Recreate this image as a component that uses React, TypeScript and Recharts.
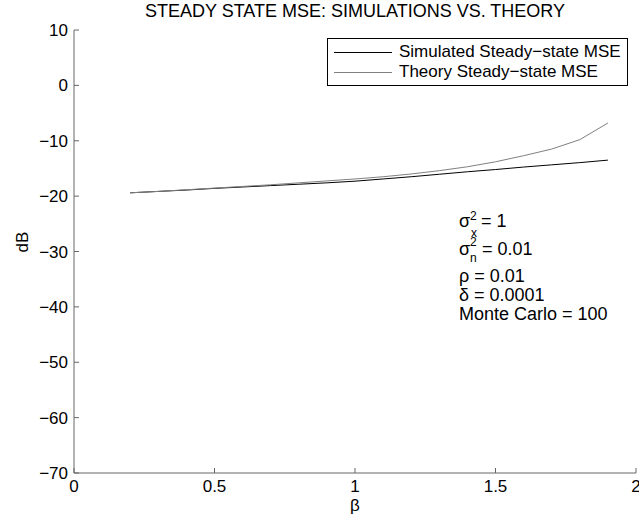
import React from 'react';
import { LineChart, Line, XAxis, YAxis, Customized } from 'recharts';

const betaValues = [0.2, 0.3, 0.4, 0.5, 0.6, 0.7, 0.8, 0.9, 1.0, 1.1, 1.2, 1.3, 1.4, 1.5, 1.6, 1.7, 1.8, 1.9];
const simulatedMse = [-19.4, -19.15, -18.9, -18.6, -18.35, -18.1, -17.85, -17.6, -17.3, -16.9, -16.5, -16.05, -15.6, -15.2, -14.75, -14.35, -13.95, -13.5];
const theoryMse = [-19.4, -19.15, -18.85, -18.55, -18.25, -17.95, -17.6, -17.25, -16.9, -16.5, -16.0, -15.4, -14.7, -13.8, -12.7, -11.5, -9.8, -6.8];
const xTicks = [0, 0.5, 1, 1.5, 2];
const yTicks = [-70, -60, -50, -40, -30, -20, -10, 0, 10];

const FONT = '"Liberation Sans", Arial, Helvetica, sans-serif';
const AXIS_COLOR = '#666666';

const data = betaValues.map((b, i) => ({ beta: b, sim: simulatedMse[i], theory: theoryMse[i] }));

const fmt = (v: number) => String(v).replace('-', '\u2212');

const legendItems = [
  { label: 'Simulated Steady\u2212state MSE', color: '#000000' },
  { label: 'Theory Steady\u2212state MSE', color: '#808080' },
];

const LegendBox = () => (
  <div style={{ position: 'absolute', left: 327, top: 38, border: '1px solid #000', background: '#fff', fontFamily: FONT, fontSize: 17, padding: '3px 6px', boxSizing: 'border-box', width: 301, height: 48 }}>
    {legendItems.map((it) => (
      <div key={it.label} style={{ display: 'flex', alignItems: 'center', height: 20, whiteSpace: 'nowrap' }}>
        <span style={{ display: 'inline-block', width: 58, height: 0, borderTop: `1px solid ${it.color}`, marginRight: 7 }} />
        <span>{it.label}</span>
      </div>
    ))}
  </div>
);

const Annotations = () => (
  <g fontFamily={FONT} fill="#000">
    <text x={355} y={17} fontSize={18} textAnchor="middle">STEADY STATE MSE: SIMULATIONS VS. THEORY</text>
    <text x={0} y={0} fontSize={17} textAnchor="middle" transform="translate(28 242) rotate(-90)">dB</text>
    <text x={355} y={511} fontSize={17} textAnchor="middle">β</text>
    <g fontSize={18}>
      <text x={459} y={227}>σ</text>
      <text x={470} y={220} fontSize={12}>2</text>
      <text x={471} y={237} fontSize={12}>x</text>
      <text x={481} y={227}>= 1</text>
      <text x={459} y={255}>σ</text>
      <text x={470} y={246} fontSize={12}>2</text>
      <text x={470} y={262} fontSize={12}>n</text>
      <text x={482} y={255}>= 0.01</text>
      <text x={459} y={282}>ρ = 0.01</text>
      <text x={459} y={301}>δ = 0.0001</text>
      <text x={459} y={320}>Monte Carlo = 100</text>
    </g>
  </g>
);

export default function App() {
  return (
    <div style={{ position: 'absolute', left: 0, top: 0, width: 639, height: 521, background: '#fff' }}>
      <LineChart width={639} height={521} data={data} margin={{ top: 30, right: 3, bottom: 0, left: 0 }}>
        <XAxis
          dataKey="beta"
          type="number"
          domain={[0, 2]}
          ticks={xTicks}
          interval={0}
          height={48}
          tickFormatter={fmt}
          stroke={AXIS_COLOR}
          tickSize={-5}
          tickMargin={12}
          tick={{ fill: '#000', fontSize: 17, fontFamily: FONT }}
        />
        <YAxis
          type="number"
          domain={[-70, 10]}
          ticks={yTicks}
          interval={0}
          width={74}
          tickFormatter={fmt}
          stroke={AXIS_COLOR}
          tickSize={-5}
          tickMargin={11}
          tick={{ fill: '#000', fontSize: 17, fontFamily: FONT }}
        />
        <Line dataKey="sim" name="Simulated Steady-state MSE" stroke="#000000" strokeWidth={1} dot={false} isAnimationActive={false} />
        <Line dataKey="theory" name="Theory Steady-state MSE" stroke="#808080" strokeWidth={1} dot={false} isAnimationActive={false} />
        <Customized component={Annotations} />
      </LineChart>
      <LegendBox />
    </div>
  );
}
